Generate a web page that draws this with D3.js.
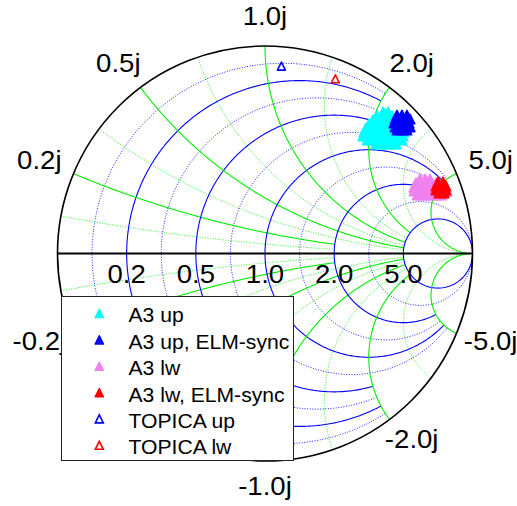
<!DOCTYPE html>
<html>
<head>
<meta charset="utf-8">
<script src="https://cdn.jsdelivr.net/npm/d3@7"></script>
<style>
  html, body { margin: 0; padding: 0; background: #fff; }
  svg { display: block; }
</style>
</head>
<body>
<script>
// ---- grid values (normalized impedance) ----
const majorValues = [0.2, 0.5, 1, 2, 5];
const minorValues = [1 / 11, 1 / 3, 5 / 7, 1.4, 3];
// how far each constant-resistance circle runs, as max |reactance|
const majorRExtent = [2, 2, 5, 5, Infinity];
const minorRExtent = [2, 2, 5, 5, Infinity];
// how far each constant-reactance arc runs, as max resistance
const majorXExtent = [2, 5, 5, 5, Infinity];
const minorXExtent = [2, 5, 5, 5, Infinity];

const realTickLabels = ["0.2", "0.5", "1.0", "2.0", "5.0"];
const imagTickValues = [0.2, 0.5, 1, 2, 5, -0.2, -0.5, -1, -2, -5];
const imagTickLabels = ["0.2j", "0.5j", "1.0j", "2.0j", "5.0j", "-0.2j", "-0.5j", "-1.0j", "-2.0j", "-5.0j"];

// ---- measured reflection coefficients [real, imaginary] ----
const a3Up = [
  [0.569, 0.682], [0.593, 0.682],
  [0.540, 0.663], [0.564, 0.663], [0.588, 0.663], [0.612, 0.663], [0.636, 0.663],
  [0.520, 0.643], [0.545, 0.643], [0.569, 0.643], [0.593, 0.643], [0.617, 0.643], [0.641, 0.643], [0.665, 0.643],
  [0.501, 0.624], [0.525, 0.624], [0.549, 0.624], [0.573, 0.624], [0.598, 0.624], [0.622, 0.624], [0.646, 0.624], [0.670, 0.624],
  [0.487, 0.605], [0.511, 0.605], [0.535, 0.605], [0.559, 0.605], [0.583, 0.605], [0.607, 0.605], [0.631, 0.605], [0.655, 0.605], [0.680, 0.605],
  [0.477, 0.586], [0.501, 0.586], [0.525, 0.586], [0.549, 0.586], [0.573, 0.586], [0.598, 0.586], [0.622, 0.586], [0.646, 0.586], [0.670, 0.586],
  [0.472, 0.566], [0.496, 0.566], [0.520, 0.566], [0.545, 0.566], [0.569, 0.566], [0.593, 0.566], [0.617, 0.566], [0.641, 0.566], [0.665, 0.566],
  [0.492, 0.547], [0.516, 0.547], [0.540, 0.547], [0.564, 0.547], [0.588, 0.547], [0.612, 0.547], [0.636, 0.547], [0.660, 0.547],
  [0.535, 0.528], [0.559, 0.528], [0.583, 0.528], [0.607, 0.528], [0.631, 0.528]
];
const a3UpSync = [
  [0.636, 0.667], [0.660, 0.667], [0.684, 0.667],
  [0.627, 0.648], [0.651, 0.648], [0.675, 0.648], [0.699, 0.648],
  [0.622, 0.629], [0.646, 0.629], [0.670, 0.629], [0.694, 0.629],
  [0.627, 0.610], [0.651, 0.610], [0.675, 0.610], [0.699, 0.610],
  [0.636, 0.595], [0.660, 0.595], [0.684, 0.595]
];
const a3Lw = [
  [0.747, 0.359], [0.771, 0.359], [0.795, 0.359],
  [0.728, 0.340], [0.752, 0.340], [0.776, 0.340], [0.800, 0.340], [0.824, 0.340],
  [0.718, 0.320], [0.742, 0.320], [0.766, 0.320], [0.790, 0.320], [0.814, 0.320], [0.839, 0.320], [0.863, 0.320],
  [0.718, 0.301], [0.742, 0.301], [0.766, 0.301], [0.790, 0.301], [0.814, 0.301], [0.839, 0.301], [0.863, 0.301], [0.877, 0.301],
  [0.733, 0.282], [0.757, 0.282], [0.781, 0.282], [0.805, 0.282], [0.829, 0.282], [0.853, 0.282]
];
const a3LwSync = [
  [0.834, 0.345], [0.858, 0.345],
  [0.824, 0.325], [0.848, 0.325], [0.872, 0.325],
  [0.824, 0.306], [0.848, 0.306], [0.872, 0.306],
  [0.839, 0.292], [0.863, 0.292]
];
const topicaUp = [[0.079, 0.903]];
const topicaLw = [[0.339, 0.842]];

const seriesNames = ["A3 up", "A3 up, ELM-sync", "A3 lw", "A3 lw, ELM-sync", "TOPICA up", "TOPICA lw"];
const seriesColors = ["#00ffff", "#0000ff", "#ee82ee", "#ff0000", "#0000ff", "#ff0000"];
const seriesFilled = [true, true, true, true, false, false];
const seriesData = [a3Up, a3UpSync, a3Lw, a3LwSync, topicaUp, topicaLw];

// ---- layout ----
const W = 517, H = 506;
const cx = 265, cy = 253.5, R = 207.5;
const FONT = "'Liberation Sans', Arial, Helvetica, sans-serif";
const BLUE = "#0000ff", GREEN = "#00ee00";

const svg = d3.select("body").append("svg").attr("width", W).attr("height", H);

const sx = d3.scaleLinear().domain([-1, 1]).range([cx - R, cx + R]);
const sy = d3.scaleLinear().domain([-1, 1]).range([cy + R, cy - R]);

// z = r + jx  ->  Γ = (z - 1) / (z + 1)
function gamma(r, x) {
  if (!isFinite(r) || !isFinite(x)) return [1, 0];
  const d = (r + 1) * (r + 1) + x * x;
  return [(r * r + x * x - 1) / d, 2 * x / d];
}

const line = d3.line().x(p => sx(p[0])).y(p => sy(p[1]));
const N = 500;

// constant-resistance circle r, for |x| <= xmax
function resistancePath(r, xmax) {
  const tMax = isFinite(xmax) ? Math.atan(xmax) : Math.PI / 2;
  const pts = d3.range(N + 1).map(i => {
    const t = -tMax + (2 * tMax) * i / N;
    const x = Math.abs(t) >= Math.PI / 2 - 1e-9 ? Math.sign(t) * 1e12 : Math.tan(t);
    return gamma(r, x);
  });
  return line(pts);
}

// constant-reactance arc x, for 0 <= r <= rmax
function reactancePath(x, rmax) {
  const sMax = isFinite(rmax) ? Math.atan(rmax) : Math.PI / 2;
  const pts = d3.range(N + 1).map(i => {
    const s = sMax * i / N;
    const r = s >= Math.PI / 2 - 1e-9 ? 1e12 : Math.tan(s);
    return gamma(r, x);
  });
  return line(pts);
}

const grid = svg.append("g").attr("fill", "none");

// minor grid (dotted)
minorValues.forEach((v, i) => {
  grid.append("path").attr("d", resistancePath(v, minorRExtent[i]))
    .attr("stroke", BLUE).attr("stroke-width", 0.9).attr("stroke-dasharray", "1,1.6");
  [v, -v].forEach(x => grid.append("path").attr("d", reactancePath(x, minorXExtent[i]))
    .attr("stroke", GREEN).attr("stroke-width", 0.9).attr("stroke-dasharray", "1,1.6"));
});

// major grid (solid)
majorValues.forEach((v, i) => {
  grid.append("path").attr("d", resistancePath(v, majorRExtent[i]))
    .attr("stroke", BLUE).attr("stroke-width", 1.1);
  [v, -v].forEach(x => grid.append("path").attr("d", reactancePath(x, majorXExtent[i]))
    .attr("stroke", GREEN).attr("stroke-width", 1.1));
});

// outer circle and real axis
svg.append("circle").attr("cx", sx(0)).attr("cy", sy(0)).attr("r", sx(1) - sx(0))
  .attr("fill", "none").attr("stroke", "#000").attr("stroke-width", 1.6);
svg.append("line").attr("x1", sx(-1)).attr("x2", sx(1)).attr("y1", sy(0)).attr("y2", sy(0))
  .attr("stroke", "#000").attr("stroke-width", 1.8);

// stretch a text slightly wider than the stock face
function widen(sel, k) {
  sel.each(function () {
    const len = this.getComputedTextLength();
    d3.select(this).attr("textLength", len * k).attr("lengthAdjust", "spacingAndGlyphs");
  });
}

// real-axis labels
const labels = svg.append("g").attr("font-family", FONT).attr("fill", "#000");
majorValues.forEach((v, i) => {
  const g = gamma(v, 0);
  const t = labels.append("text").attr("x", sx(g[0])).attr("y", sy(0) + 29.5)
    .attr("text-anchor", "middle").attr("font-size", 26.5).text(realTickLabels[i]);
  widen(t, 1.04);
});

// imaginary-axis labels around the rim
imagTickValues.forEach((x, i) => {
  const g = gamma(0, x);
  const th = Math.atan2(g[1], g[0]);
  const lx = cx + (R + 37) * Math.cos(th);
  const ly = cy - 2 - (R + 27.5) * Math.sin(th);
  const t = labels.append("text").attr("x", lx).attr("y", ly + 8)
    .attr("text-anchor", "middle").attr("font-size", 26.5).text(imagTickLabels[i]);
  widen(t, 1.04);
});

// triangle marker (apex up, width = height = s)
function tri(s) {
  const h = s / 2;
  return `M0,${-h}L${h},${h}L${-h},${h}Z`;
}

const marks = svg.append("g");
seriesData.forEach((pts, k) => {
  const filled = seriesFilled[k];
  marks.append("g").selectAll("path").data(pts).join("path")
    .attr("transform", d => `translate(${sx(d[0])},${sy(d[1])})`)
    .attr("d", tri(filled ? 9.5 : 8))
    .attr("fill", filled ? seriesColors[k] : "#fff")
    .attr("stroke", seriesColors[k])
    .attr("stroke-linejoin", "round")
    .attr("stroke-width", filled ? 1.6 : 1.6);
});

// legend
const lg = svg.append("g").attr("font-family", FONT);
lg.append("rect").attr("x", 61.5).attr("y", 296.5).attr("width", 232).attr("height", 164)
  .attr("fill", "#fff").attr("stroke", "#222").attr("stroke-width", 1);
seriesNames.forEach((name, k) => {
  const y = 313.3 + k * 26.4;
  const filled = seriesFilled[k];
  lg.append("path").attr("transform", `translate(99.3,${y})`)
    .attr("d", tri(filled ? 9 : 8))
    .attr("fill", filled ? seriesColors[k] : "#fff")
    .attr("stroke", seriesColors[k])
    .attr("stroke-width", filled ? 1 : 1.6);
  const t = lg.append("text").attr("x", 128.5).attr("y", y + 9).attr("font-size", 20.5)
    .attr("fill", "#000").text(name);
  widen(t, 1.03);
});
</script>
</body>
</html>
